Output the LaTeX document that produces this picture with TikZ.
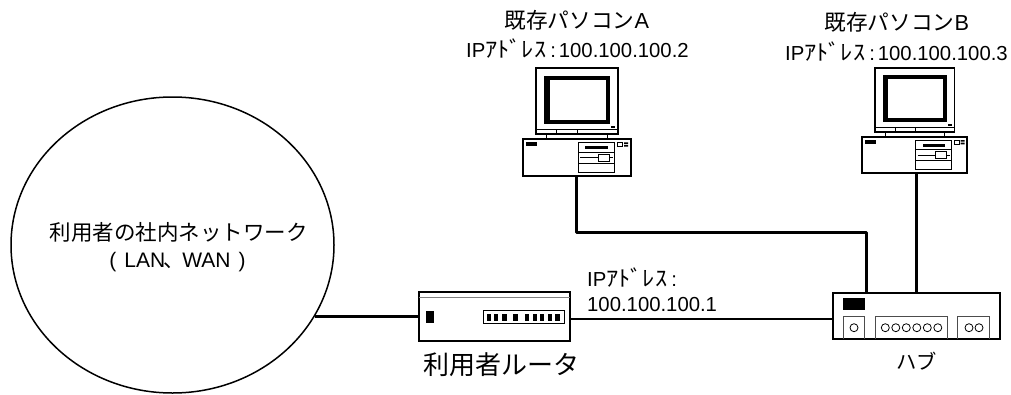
\documentclass[tikz,border=0pt]{standalone}
\usepackage{fontspec}
\usepackage{graphicx}
\usetikzlibrary{shapes.geometric}
\setmainfont{Liberation Sans}
\newfontfamily\cjk{Noto Sans CJK JP}
\newcommand{\ipw}{IP\scalebox{1.2}[1.08]{\cjk ｱﾄﾞﾚｽ}\hspace{4pt}:}
\newcommand{\pcparts}{%
    \draw[unit] (536,68) rectangle (617.7,134);
    \draw[thin box] (536,129) -- (617.7,129);
    \draw[thin box] (556.7,129) -- (556.7,134) (577.3,129) -- (577.3,134);
    \fill[blk] (544,76) rectangle (610,124);
    \fill[white] (550,80) rectangle (605.7,120);
    \fill[blk] (611,126) rectangle (615,128);
    \draw[line width=1.5pt] (546.7,134) -- (546.7,139) (607.3,134) -- (607.3,139);
    \fill[blk] (526,142.3) rectangle (536.7,146);
    \draw[thin box] (578,142.3) rectangle (614.7,172.7);
    \draw[thin box] (578,152.3) -- (614.7,152.3) (578,163.3) -- (614.7,163.3);
    \fill[blk] (585,146) rectangle (608,149);
    \draw[thin box,line width=.6pt] (580,157.7) -- (613,157.7);
    \draw[thin box,line width=.6pt,fill=white] (598.3,154.3) rectangle (609.3,161);
    \draw[thin box,line width=.7pt] (617.7,142.3) rectangle (622.3,146.7);
    \fill[blk] (624,142.3) rectangle (628,144) (624,145) rectangle (628,146.7);
}
\tikzset{
  unit/.style={draw=black,fill=white,line width=1.9pt,rectangle,inner sep=0pt,outer sep=0pt},
  thin box/.style={draw=black,line width=1pt},
  blk/.style={fill=black},
  link/.style={draw=black,line width=2.8pt},
  lbl/.style={inner sep=0pt,font=\fontsize{20.3}{24}\selectfont,align=center},
  title/.style={lbl,font=\fontsize{21.7}{26}\selectfont}
}
\begin{document}
\begin{tikzpicture}[x=1pt,y=-1pt]
\useasboundingbox (0,0) rectangle (1011,394);
% network cloud
\node[draw=black,line width=1.5pt,ellipse,minimum width=323pt,minimum height=296pt,inner sep=0pt,outer sep=0pt] (net) at (172.5,245) {};
\node[lbl,font=\fontsize{21.5}{27}\selectfont] (netA) at (178.5,232.7) {\cjk 利用者の社内ネットワーク};
\node[lbl,font=\fontsize{21}{25}\selectfont] (netB) at (177.5,261.7) {(\hspace{8pt}LAN\hspace{-2pt}{\cjk 、}\hspace{-2pt}WAN\hspace{8pt})};
% router
\node[unit,minimum width=151.3pt,minimum height=49pt] (router) at (494.4,316.5) {};
\draw[draw=gray,line width=1pt] (419,297.7) -- (570,297.7);
\fill[blk] (426,310.7) rectangle (434.3,323.3);
\draw[line width=.8pt] (483.3,310.7) rectangle (564,323);
\foreach \a/\b in {320/332,342/355,365/380,400/413,435/448,458/472,480/493,503/515,525/540}
  \fill[blk] ({380+\a/3},314) rectangle ({380+\b/3},321);
\node[lbl,font=\fontsize{26}{30}\selectfont] (routerL) at (501,365) {\cjk 利用者ルータ};
% hub
\node[unit,minimum width=167pt,minimum height=46.6pt] (hub) at (916.5,316) {};
\fill[blk] (843,298) rectangle (865,310);
\draw[thin box,draw=black!70] (843.5,339) -- (843.5,316) -- (864.5,316) -- (864.5,339);
\draw[line width=.8pt] (854,327.7) circle (4);
\draw[thin box,draw=black!70] (875,339) -- (875,316) -- (947.7,316) -- (947.7,339);
\foreach \x in {885.3,895.8,906.3,916.8,927.3,937.8}
  \draw[line width=.8pt] (\x,327.7) circle (4);
\draw[thin box,draw=black!70] (957.3,339) -- (957.3,316) -- (989.3,316) -- (989.3,339);
\foreach \x in {969,979}
  \draw[line width=.8pt] (\x,327.7) circle (4);
\node[lbl] (hubL) at (916.5,361) {\cjk ハブ};
% PCs
\node[unit,minimum width=108pt,minimum height=36.7pt] (pcA) at (576.7,157.35) {};
\pcparts
\node[unit,minimum width=105.6pt,minimum height=36pt] (pcB) at (914.5,154.7) {};
\begin{scope}[shift={(914.5,154.7)},scale=0.975,shift={(-576.7,-157.35)}]
\pcparts
\end{scope}
% links
\coordinate (bend) at (pcA.south |- 0,232.7);
\coordinate (hubA) at (866.7,0);
\coordinate (hubB) at (916.7,0);
\draw[link] (315,316.7) coordinate (netOut) -- (netOut -| router.west);
\draw[link] (router.east |- 0,319) coordinate (rOut) -- (rOut -| hub.west);
\draw[link,line join=round] (pcA.south) -- (bend) -- (hubA |- bend) -- (hubA |- hub.north);
\draw[link] (hubB |- pcB.south) -- (hubB |- hub.north);
% labels
\node[title] (tA) at (576.7,20) {{\cjk 既存パソコン}A};
\node[lbl,anchor=west] (ipA) at (466,49) {\ipw\hspace{3pt}100.100.100.2};
\node[title] (tB) at (896.7,22) {{\cjk 既存パソコン}B};
\node[lbl,anchor=west] (ipB) at (785,52) {\ipw\hspace{3pt}100.100.100.3};
\node[lbl,anchor=west] (ipR) at (587,278) {\ipw};
\node[lbl,anchor=west] (ipR2) at (587,305) {100.100.100.1};
\end{tikzpicture}
\end{document}
